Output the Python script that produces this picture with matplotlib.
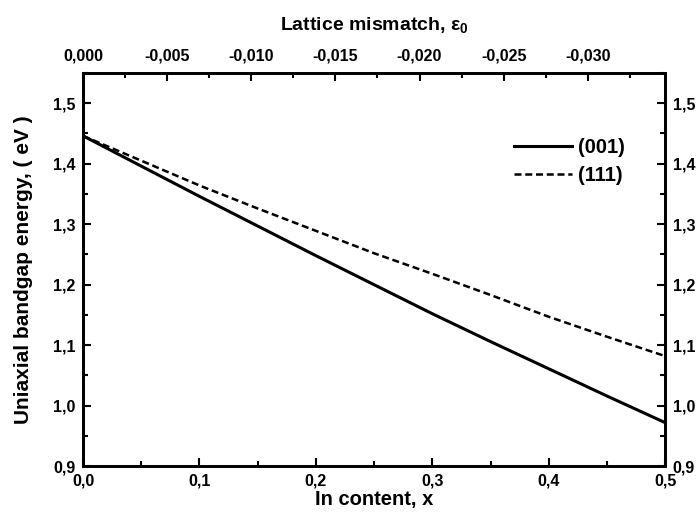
import matplotlib
matplotlib.use("Agg")
import matplotlib.pyplot as plt
from matplotlib.ticker import MultipleLocator, FuncFormatter

# Indium content and uniaxial bandgap for the two growth orientations
x_content = [0.0, 0.05, 0.10, 0.15, 0.20, 0.25, 0.30, 0.35, 0.40, 0.45, 0.50]
gap_001 = [1.446, 1.396, 1.346, 1.297, 1.248, 1.200, 1.152, 1.106, 1.061, 1.016, 0.972]
gap_111 = [1.446, 1.405, 1.364, 1.326, 1.289, 1.252, 1.218, 1.183, 1.147, 1.114, 1.082]
series_labels = ["(001)", "(111)"]

# Lattice mismatch range shown on the top axis
mismatch_limits = (0.0, -0.0346)

plt.rcParams["font.family"] = ["Liberation Sans", "DejaVu Sans"]
plt.rcParams["font.weight"] = "bold"
plt.rcParams["mathtext.fontset"] = "custom"
plt.rcParams["mathtext.rm"] = "Liberation Sans:bold"
plt.rcParams["mathtext.it"] = "Liberation Sans:bold"
plt.rcParams["mathtext.bf"] = "Liberation Sans:bold"

fig = plt.figure(figsize=(6.98, 5.25), dpi=100)
ax = fig.add_axes([0.119, 0.112, 0.834, 0.749])


def comma(v, pos, nd=1):
    s = f"{v:.{nd}f}".replace(".", ",")
    if s.startswith("-") and abs(v) < 1e-12:
        s = s[1:]
    return s


ax.plot(x_content, gap_001, color="black", lw=2.2, label=series_labels[0])
dash_line, = ax.plot(x_content, gap_111, color="black", lw=1.8, label=series_labels[1])
dash_line.set_dashes([2.8, 1.5])

ax.set_xlim(0.0, 0.5)
ax.set_ylim(0.9, 1.55)

ax.xaxis.set_major_locator(MultipleLocator(0.1))
ax.xaxis.set_minor_locator(MultipleLocator(0.05))
ax.yaxis.set_major_locator(MultipleLocator(0.1))
ax.yaxis.set_minor_locator(MultipleLocator(0.05))
ax.xaxis.set_major_formatter(FuncFormatter(lambda v, p: comma(v, p, 1)))
ax.yaxis.set_major_formatter(FuncFormatter(lambda v, p: comma(v, p, 1)))

ax.tick_params(which="both", direction="in", width=1.5, labelsize=11.5,
               left=True, right=True, bottom=True, top=False,
               labelleft=True, labelright=True)
ax.tick_params(which="major", length=6)
ax.tick_params(which="minor", length=3.5)
ax.tick_params(axis="x", which="major", pad=5.5)
ax.tick_params(axis="y", which="major", pad=5.5)
for sp in ax.spines.values():
    sp.set_linewidth(2.0)

ax.set_xlabel("In content, x", fontsize=14.5, fontweight="bold", labelpad=1)
ax.set_ylabel("Uniaxial bandgap energy, ( eV )", fontsize=15, fontweight="bold", labelpad=14)

# Top axis: lattice mismatch
top = ax.twiny()
top.set_xlim(*mismatch_limits)
top.xaxis.set_major_locator(MultipleLocator(0.005))
top.xaxis.set_minor_locator(MultipleLocator(0.0025))
top.xaxis.set_major_formatter(FuncFormatter(lambda v, p: comma(v, p, 3)))
top.tick_params(which="both", direction="in", width=1.5, labelsize=11.5)
top.tick_params(which="major", length=6, pad=7)
top.tick_params(which="minor", length=3.5)
top.set_xlabel(r"Lattice mismatch, $\mathrm{ε}_{0}$", fontsize=14, fontweight="bold", labelpad=13)
for sp in top.spines.values():
    sp.set_linewidth(2.0)

for lbl in ax.get_xticklabels() + ax.get_yticklabels() + top.get_xticklabels():
    lbl.set_fontweight("bold")

leg = ax.legend(loc="upper right", bbox_to_anchor=(0.945, 0.855), frameon=False,
                fontsize=14.5, handlelength=2.9, handletextpad=0.3, labelspacing=0.45,
                borderaxespad=0)
for t in leg.get_texts():
    t.set_fontweight("bold")

fig.savefig("out.png", dpi=100)
